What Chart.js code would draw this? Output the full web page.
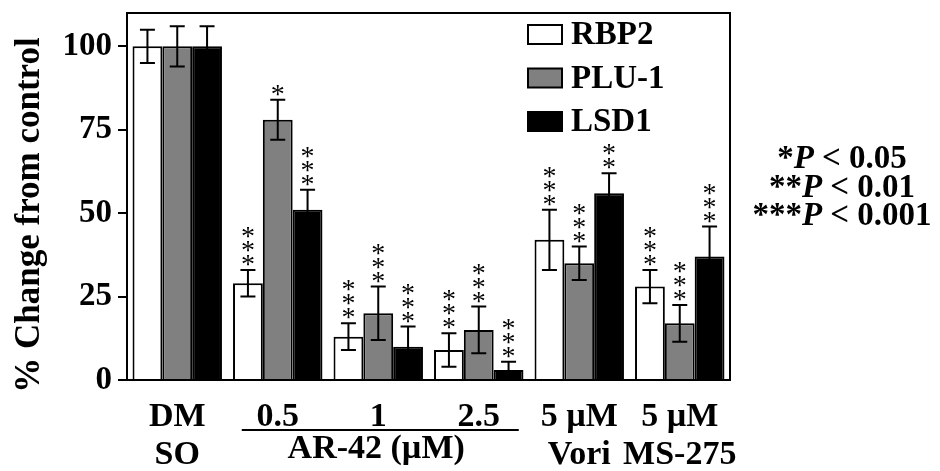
<!DOCTYPE html>
<html>
<head>
<meta charset="utf-8">
<script src="https://cdn.jsdelivr.net/npm/chart.js@4.4.0/dist/chart.umd.min.js"></script>
<style>
  html, body { margin: 0; padding: 0; background: #fff; }
</style>
</head>
<body>
<canvas id="chart" width="940" height="471"></canvas>
<script>
// Data
const categories = [['DM', 'SO'], ['0.5'], ['1'], ['2.5'], ['5 µM', 'Vori'], ['5 µM', 'MS-275']];
const seriesNames = ['RBP2', 'PLU-1', 'LSD1'];
const rbp2Values = [100, 29, 13, 9, 42, 28];
const plu1Values = [100, 78, 20, 15, 35, 17];
const lsd1Values = [100, 51, 10, 3, 56, 37];
const rbp2Errors = [5, 4, 4, 5, 9, 5];
const plu1Errors = [6, 6, 8, 7, 5, 5.5];
const lsd1Errors = [6, 6, 6, 2.5, 6, 9];
const rbp2Stars = ['', '***', '***', '***', '***', '***'];
const plu1Stars = ['', '*', '***', '***', '***', '***'];
const lsd1Stars = ['', '***', '***', '***', '**', '***'];
const yTicks = [0, 25, 50, 75, 100];
const yTitle = '% Change from control';
const groupLabel = 'AR-42 (µM)';
const pLegend = [['*', '0.05'], ['**', '0.01'], ['***', '0.001']];

const SERIF = "'Liberation Serif', 'Times New Roman', serif";
const barColors = ['#ffffff', '#808080', '#000000'];
const errorSets = [rbp2Errors, plu1Errors, lsd1Errors];
const starSets = [rbp2Stars, plu1Stars, lsd1Stars];

// error bars, significance stars and the extra annotations
const figurePlugin = {
    id: 'figureExtras',
    afterDatasetsDraw(chart) {
        const ctx = chart.ctx;
        const y = chart.scales.y;
        ctx.save();
        ctx.strokeStyle = '#000';
        ctx.fillStyle = '#000';
        ctx.lineWidth = 2;
        chart.data.datasets.forEach((ds, di) => {
            const meta = chart.getDatasetMeta(di);
            meta.data.forEach((bar, i) => {
                const v = ds.data[i];
                const e = errorSets[di][i];
                const top = y.getPixelForValue(v + e);
                const bot = y.getPixelForValue(v - e);
                const x = bar.x;
                ctx.beginPath();
                ctx.moveTo(x, top);
                ctx.lineTo(x, bot);
                ctx.moveTo(x - 7.5, top);
                ctx.lineTo(x + 7.5, top);
                ctx.moveTo(x - 7.5, bot);
                ctx.lineTo(x + 7.5, bot);
                ctx.stroke();

                const stars = starSets[di][i];
                ctx.font = '28px ' + SERIF;
                ctx.textAlign = 'center';
                ctx.textBaseline = 'alphabetic';
                for (let k = 0; k < stars.length; k++) {
                    const cy = top - 11 - k * 14;
                    ctx.fillText('*', x, cy + 14);
                }
            });
        });
        ctx.restore();
    },
    afterDraw(chart) {
        const ctx = chart.ctx;
        const area = chart.chartArea;
        const xs = chart.scales.x;
        ctx.save();
        ctx.strokeStyle = '#000';
        ctx.fillStyle = '#000';
        ctx.lineWidth = 2;

        // frame: top and right sides
        ctx.beginPath();
        ctx.moveTo(area.left, area.top);
        ctx.lineTo(area.right, area.top);
        ctx.lineTo(area.right, area.bottom);
        ctx.stroke();

        // legend inside the plot
        ctx.font = 'bold 33px ' + SERIF;
        ctx.textAlign = 'left';
        ctx.textBaseline = 'alphabetic';
        chart.data.datasets.forEach((ds, di) => {
            const bx = area.right - 202;
            const by = area.top + 12 + di * 43.5;
            ctx.fillStyle = ds.backgroundColor;
            ctx.fillRect(bx, by, 34, 19);
            ctx.strokeRect(bx, by, 34, 19);
            ctx.fillStyle = '#000';
            ctx.fillText(ds.label, bx + 43, by + 19);
        });

        // y axis title
        ctx.save();
        ctx.translate(30, 215);
        ctx.rotate(-Math.PI / 2);
        ctx.font = 'bold 35px ' + SERIF;
        ctx.textAlign = 'center';
        ctx.textBaseline = 'middle';
        ctx.fillText(yTitle, 0, 0);
        ctx.restore();

        // AR-42 group line and label
        const lineY = area.bottom + 50;
        ctx.beginPath();
        ctx.moveTo(xs.getPixelForValue(1) - 36, lineY);
        ctx.lineTo(xs.getPixelForValue(3) + 40, lineY);
        ctx.stroke();
        ctx.font = 'bold 34px ' + SERIF;
        ctx.textAlign = 'center';
        ctx.fillText(groupLabel, xs.getPixelForValue(2) - 2, area.bottom + 78);

        // P value key on the right
        const cx = area.right + 112;
        pLegend.forEach(([st, val], i) => {
            const base = 168 + i * 28.5;
            const f1 = 'bold 33px ' + SERIF;
            const f2 = 'italic bold 33px ' + SERIF;
            const rest = ' < ' + val;
            ctx.font = f1;
            const w1 = ctx.measureText(st).width;
            const w3 = ctx.measureText(rest).width;
            ctx.font = f2;
            const w2 = ctx.measureText('P').width;
            let x0 = cx - (w1 + w2 + w3) / 2;
            ctx.textAlign = 'left';
            ctx.font = f1;
            ctx.fillText(st, x0, base);
            ctx.font = f2;
            ctx.fillText('P', x0 + w1, base);
            ctx.font = f1;
            ctx.fillText(rest, x0 + w1 + w2, base);
        });
        ctx.restore();
    }
};

const valueSets = [rbp2Values, plu1Values, lsd1Values];

new Chart(document.getElementById('chart'), {
    type: 'bar',
    data: {
        labels: categories,
        datasets: seriesNames.map((name, i) => ({
            label: name,
            data: valueSets[i],
            backgroundColor: barColors[i],
            borderColor: '#000',
            borderWidth: 2
        }))
    },
    options: {
        responsive: false,
        animation: false,
        layout: { padding: { top: 13, right: 210, left: 0, bottom: 0 } },
        datasets: {
            bar: { categoryPercentage: 0.89, barPercentage: 1 }
        },
        plugins: {
            legend: { display: false },
            tooltip: { enabled: false }
        },
        scales: {
            x: {
                grid: { display: false },
                border: { display: true, color: '#000', width: 2 },
                ticks: {
                    color: '#000',
                    font: { family: SERIF, size: 34, weight: 'bold', lineHeight: 1.1 },
                    padding: 11,
                    maxRotation: 0,
                    autoSkip: false
                },
                afterFit: (s) => {
                    s.height = 91;
                    s.paddingLeft = 0;
                    s.paddingRight = 0;
                }
            },
            y: {
                min: 0,
                max: 110,
                grid: { display: true, drawOnChartArea: false, drawTicks: true, tickLength: 9, color: '#000', lineWidth: 2 },
                border: { display: true, color: '#000', width: 2 },
                afterBuildTicks: (s) => { s.ticks = yTicks.map(v => ({ value: v })); },
                ticks: {
                    color: '#000',
                    font: { family: SERIF, size: 33, weight: 'bold' },
                    padding: 6
                },
                afterFit: (s) => {
                    s.width = 127;
                    s.paddingTop = 0;
                    s.paddingBottom = 0;
                }
            }
        }
    },
    plugins: [figurePlugin]
});
</script>
</body>
</html>
